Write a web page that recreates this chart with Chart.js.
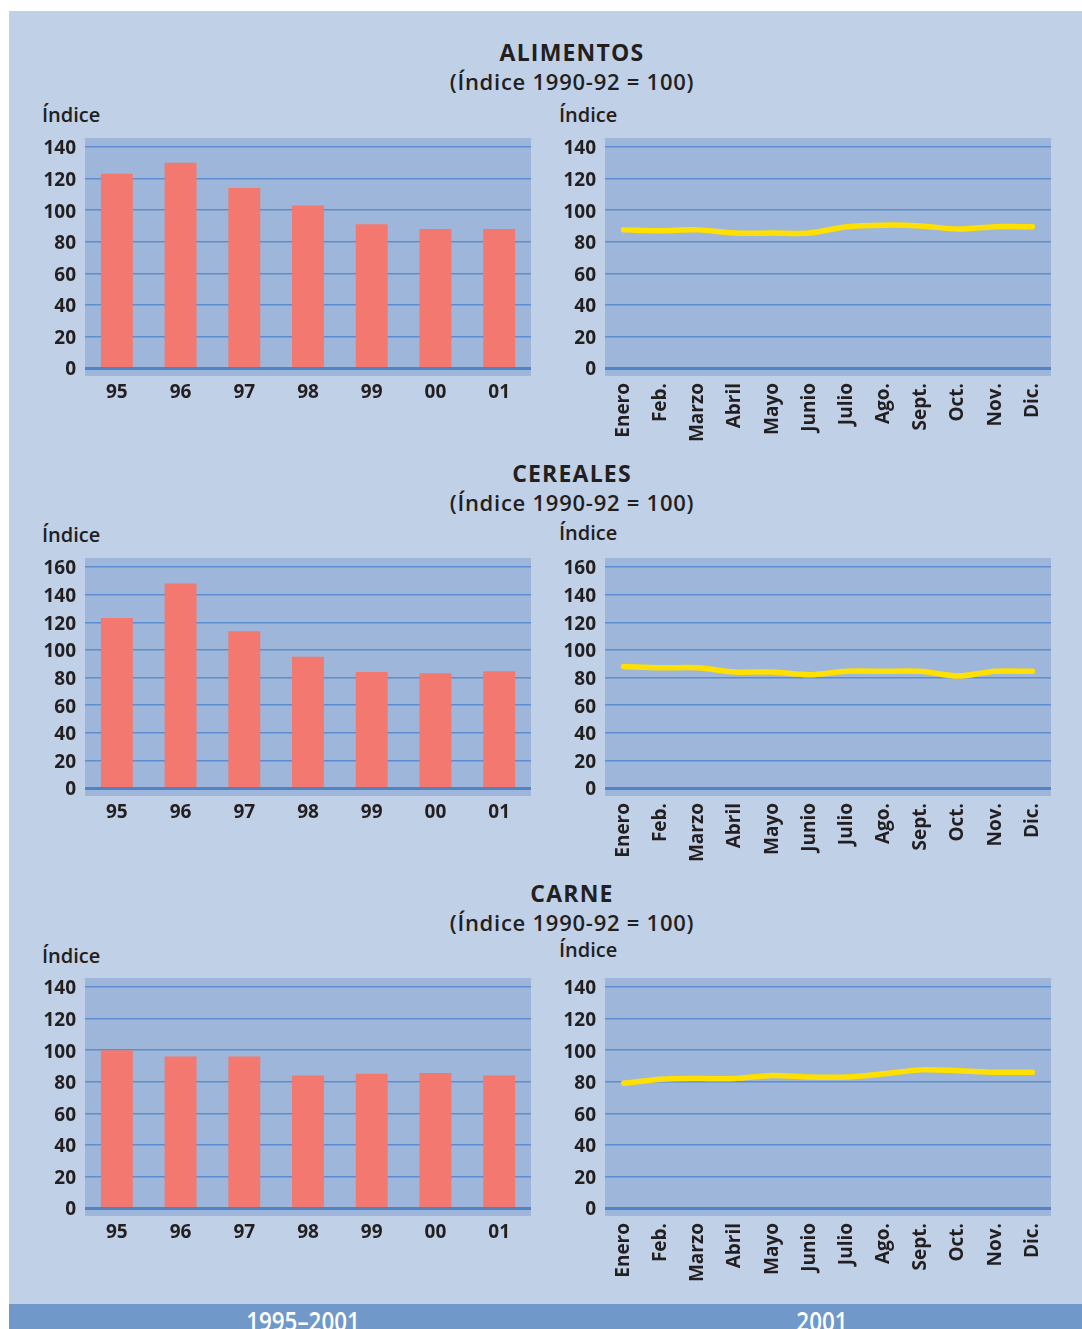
<!DOCTYPE html>
<html lang="es">
<head>
<meta charset="utf-8">
<title>Índices de precios de productos básicos</title>
<script src="https://cdn.jsdelivr.net/npm/chart.js@4.4.1/dist/chart.umd.min.js"></script>
<style>
  body { margin: 0; width: 1082px; height: 1329px; overflow: hidden; background: #fff;
         font-family: "Open Sans", "Noto Sans", sans-serif; color: #231f20; position: relative; }
  #panel { position: absolute; left: 9px; top: 11px; width: 1073px; height: 1318px; background: #c0d0e7; }
  #band { position: absolute; left: 9px; top: 1304px; width: 1073px; height: 25px; background: #7098c8; }
  .title, .sub { position: absolute; left: 372px; width: 400px; text-align: center;
                 font-size: 22px; line-height: 26px; }
  .title { font-size: 23px; font-weight: 700; letter-spacing: 1.2px; }
  .sub { font-weight: 600; letter-spacing: 0.75px; }
  .ylab { position: absolute; font-size: 20px; line-height: 24px; font-weight: 600; }
  .period { position: absolute; top: 1305px; color: #fff; font-size: 27px; line-height: 32px; font-weight: 600;
            text-align: center; width: 200px; transform: scaleX(0.83); }
  canvas { position: absolute; }
</style>
</head>
<body>
<div id="panel"></div>
<div id="band"></div>

<div class="title" style="top:39px">ALIMENTOS</div>
<div class="sub" style="top:68px">(Índice 1990-92 = 100)</div>
<div class="ylab" style="left:42px;top:103px">Índice</div>
<div class="ylab" style="left:559px;top:103px">Índice</div>

<div class="title" style="top:460px">CEREALES</div>
<div class="sub" style="top:489px">(Índice 1990-92 = 100)</div>
<div class="ylab" style="left:42px;top:523px">Índice</div>
<div class="ylab" style="left:559px;top:521px">Índice</div>

<div class="title" style="top:880px">CARNE</div>
<div class="sub" style="top:909px">(Índice 1990-92 = 100)</div>
<div class="ylab" style="left:42px;top:944px">Índice</div>
<div class="ylab" style="left:559px;top:938px">Índice</div>

<div class="period" style="left:203px">1995–2001</div>
<div class="period" style="left:722px">2001</div>

<canvas id="alimentos-anual" width="510" height="290" style="left:30px;top:130px"></canvas>
<canvas id="alimentos-mensual" width="510" height="330" style="left:550px;top:130px"></canvas>
<canvas id="cereales-anual" width="510" height="290" style="left:30px;top:550px"></canvas>
<canvas id="cereales-mensual" width="510" height="330" style="left:550px;top:550px"></canvas>
<canvas id="carne-anual" width="510" height="290" style="left:30px;top:970px"></canvas>
<canvas id="carne-mensual" width="510" height="330" style="left:550px;top:970px"></canvas>

<script>
// Categorías
const years = ['95', '96', '97', '98', '99', '00', '01'];
const months = ['Enero', 'Feb.', 'Marzo', 'Abril', 'Mayo', 'Junio', 'Julio', 'Ago.', 'Sept.', 'Oct.', 'Nov.', 'Dic.'];

// Marcas del eje de índices
const ticks140 = [0, 20, 40, 60, 80, 100, 120, 140];
const ticks160 = [0, 20, 40, 60, 80, 100, 120, 140, 160];

// Alimentos
const alimentosAnual = [123, 130, 114, 103, 91, 88, 88];
const alimentosMensual = [87.5, 87, 87.5, 85.5, 85.5, 85.5, 89.5, 90.5, 90, 88, 89.5, 89.5];

// Cereales
const cerealesAnual = [123, 148, 113.5, 95, 84, 83, 84.5];
const cerealesMensual = [88, 87, 87, 84, 84, 82, 84.5, 84.5, 84.5, 81, 84.5, 84.5];

// Carne
const carneAnual = [100, 96, 96, 84, 85, 85.5, 84];
const carneMensual = [79, 81.5, 82, 82, 84, 83, 83, 85, 87.5, 87, 86, 86];

const PLOT_FILL = '#9eb6d9';
const GRID = '#5b8dd0';
const ZERO_LINE = '#4f82c6';
const BAR = '#f27870';
const LINE = '#ffe000';
const TEXT = '#231f20';
const TICK_FONT = { family: '"Open Sans", "Noto Sans", sans-serif', size: 19, weight: '700' };

// fondo del área de trazado (sobresale un poco arriba y abajo) y línea del cero
const plotFrame = {
  id: 'plotFrame',
  beforeDraw(chart) {
    const { ctx, chartArea: a } = chart;
    ctx.save();
    ctx.fillStyle = PLOT_FILL;
    ctx.fillRect(a.left, a.top - 9, a.right - a.left, a.bottom - a.top + 17);
    ctx.restore();
  },
  afterDatasetsDraw(chart) {
    const { ctx, chartArea: a, scales } = chart;
    const y0 = scales.y.getPixelForValue(0);
    ctx.save();
    ctx.strokeStyle = ZERO_LINE;
    ctx.lineWidth = 3;
    ctx.beginPath();
    ctx.moveTo(a.left, y0 + 0.5);
    ctx.lineTo(a.right, y0 + 0.5);
    ctx.stroke();
    ctx.restore();
  }
};

// tamaños fijos de los ejes para que todas las áreas queden alineadas
function fixAxis(size, horizontal) {
  return scale => {
    if (horizontal) scale.height = size; else scale.width = size;
    scale.paddingTop = 0;
    scale.paddingBottom = 0;
    scale.paddingLeft = 0;
    scale.paddingRight = 0;
  };
}

function makeScales(tickValues, xHeight, rotated) {
  const max = tickValues[tickValues.length - 1];
  return {
    x: {
      offset: true,
      grid: { display: false, drawTicks: false },
      border: { display: false },
      ticks: {
        color: TEXT, font: TICK_FONT, autoSkip: false,
        padding: rotated ? 15 : 13,
        minRotation: rotated ? 90 : 0, maxRotation: rotated ? 90 : 0
      },
      afterFit: fixAxis(xHeight, true)
    },
    y: {
      min: 0, max: max,
      afterBuildTicks(scale) { scale.ticks = tickValues.map(v => ({ value: v })); },
      grid: {
        drawTicks: false, lineWidth: 1.5,
        color: ctx => (ctx.tick && ctx.tick.value === 0) ? 'rgba(0,0,0,0)' : GRID
      },
      border: { display: false },
      ticks: { color: TEXT, font: TICK_FONT, padding: 9, labelOffset: 2 },
      afterFit: fixAxis(55, false)
    }
  };
}

function baseOptions(tickValues, xHeight, rotated) {
  return {
    responsive: false,
    animation: false,
    devicePixelRatio: 1,
    layout: { padding: { top: 17, right: 9, bottom: 0, left: 0 } },
    plugins: { legend: { display: false }, tooltip: { enabled: false } },
    scales: makeScales(tickValues, xHeight, rotated)
  };
}

function barChart(id, values, tickValues) {
  return new Chart(document.getElementById(id), {
    type: 'bar',
    data: {
      labels: years,
      datasets: [{ data: values, backgroundColor: BAR, borderWidth: 0,
                   barPercentage: 0.5, categoryPercentage: 1 }]
    },
    options: baseOptions(tickValues, 52, false),
    plugins: [plotFrame]
  });
}

function lineChart(id, values, tickValues) {
  return new Chart(document.getElementById(id), {
    type: 'line',
    data: {
      labels: months,
      datasets: [{ data: values, borderColor: LINE, borderWidth: 5.5, tension: 0.3,
                   borderCapStyle: 'round', borderJoinStyle: 'round',
                   pointRadius: 0, fill: false }]
    },
    options: baseOptions(tickValues, 92, true),
    plugins: [plotFrame]
  });
}

barChart('alimentos-anual', alimentosAnual, ticks140);
lineChart('alimentos-mensual', alimentosMensual, ticks140);
barChart('cereales-anual', cerealesAnual, ticks160);
lineChart('cereales-mensual', cerealesMensual, ticks160);
barChart('carne-anual', carneAnual, ticks140);
lineChart('carne-mensual', carneMensual, ticks140);
</script>
</body>
</html>
